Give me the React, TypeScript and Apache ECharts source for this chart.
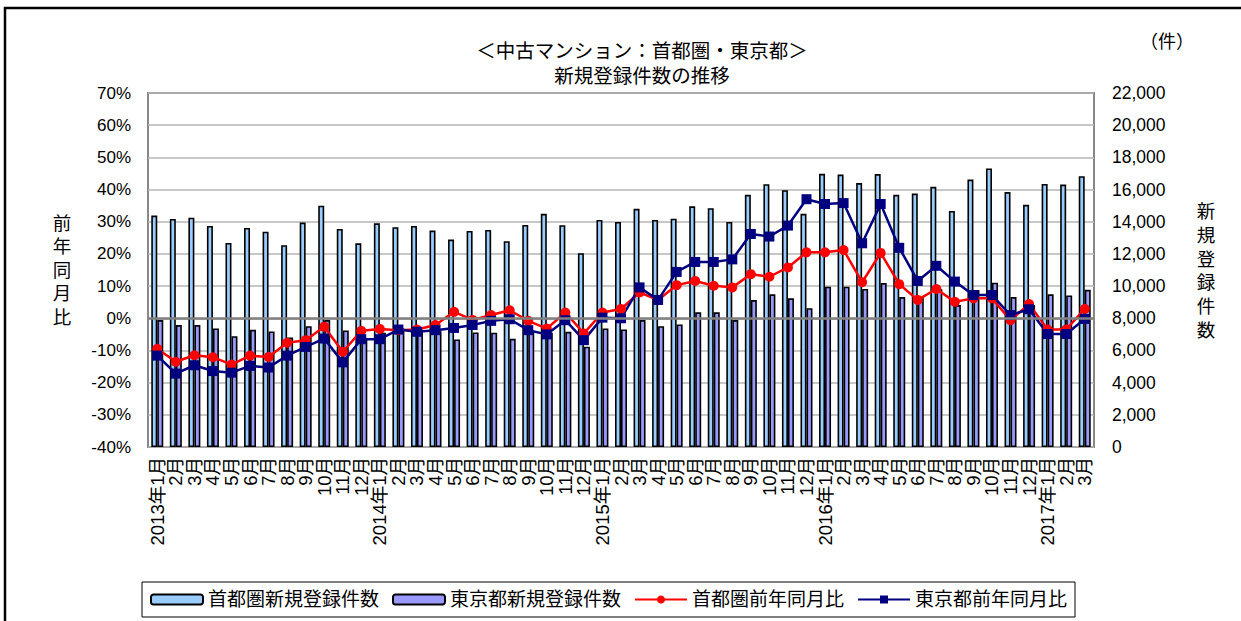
import React, { useEffect, useRef } from "react";
import * as echarts from "echarts";

const months: string[] = [];
const years = [2013, 2014, 2015, 2016, 2017];
const monthCounts = [12, 12, 12, 12, 3];
years.forEach((y, yi) => {
  for (let m = 1; m <= monthCounts[yi]; m++) {
    months.push(m === 1 ? `${y}年${m}月` : `${m}月`);
  }
});

const shutokenCount = [
  14380, 14170, 14250, 13740, 12680, 13610, 13380, 12540, 13950, 15000, 13550, 12660,
  13900, 13660, 13740, 13450, 12890, 13430, 13490, 12790, 13800, 14490, 13780, 12040,
  14110, 13990, 14800, 14110, 14190, 14960, 14840, 13990, 15670, 16330, 15960, 14490,
  16980, 16930, 16400, 16960, 15670, 15750, 16170, 14670, 16620, 17310, 15840, 15050,
  16350, 16310, 16830,
];
const tokyoCount = [
  7890, 7580, 7580, 7370, 6890, 7280, 7180, 6800, 7510, 7890, 7240, 6700,
  7100, 7370, 7300, 7200, 6680, 7120, 7100, 6720, 7200, 7100, 7160, 6230,
  7370, 7310, 7890, 7510, 7620, 8370, 8370, 7890, 9130, 9490, 9240, 8630,
  9960, 9960, 9820, 10190, 9320, 9300, 9800, 8820, 9750, 10210, 9320, 8820,
  9490, 9420, 9770,
];
const shutokenYoY = [
  -9.5, -13.5, -11.5, -12.1, -14.4, -11.6, -12.0, -7.6, -6.8, -2.6, -10.4, -3.9,
  -3.3, -3.7, -3.5, -2.1, 2.0, -0.5, 1.0, 2.5, -0.8, -3.2, 1.8, -4.7,
  1.8, 2.9, 8.0, 5.7, 10.3, 11.6, 10.1, 9.6, 13.7, 12.9, 15.8, 20.5,
  20.5, 21.2, 11.2, 20.3, 10.6, 5.7, 9.1, 5.1, 6.2, 6.2, -0.6, 4.4,
  -3.5, -3.5, 2.9,
];
const tokyoYoY = [
  -11.6, -17.2, -14.6, -16.4, -16.9, -14.8, -15.3, -11.6, -8.9, -6.3, -13.7, -6.5,
  -6.5, -3.5, -4.2, -3.7, -3.0, -2.1, -0.8, -0.3, -3.7, -5.0, -0.6, -6.8,
  0.2, 0.0, 9.6, 5.7, 14.4, 17.5, 17.5, 18.3, 26.2, 25.4, 28.8, 37.0,
  35.5, 35.8, 23.3, 35.5, 21.9, 11.6, 16.3, 11.4, 7.2, 7.2, 1.0, 2.8,
  -4.9, -4.9, -0.2,
];

const seriesNames = ["首都圏新規登録件数", "東京都新規登録件数", "首都圏前年同月比", "東京都前年同月比"];
const titleLines = ["＜中古マンション：首都圏・東京都＞", "新規登録件数の推移"];
const leftAxisName = "前年同月比";
const rightAxisName = "新規登録件数";
const unitLabel = "（件）";

const FONT = "'Liberation Sans', 'Noto Sans CJK JP', sans-serif";

export default function App() {
  const ref = useRef<HTMLDivElement>(null);
  useEffect(() => {
    if (!ref.current) return;
    const chart = echarts.init(ref.current, null, { renderer: "svg" });
    chart.setOption({
      animation: false,
      backgroundColor: "#fff",
      textStyle: { fontFamily: FONT, color: "#000" },
      title: {
        text: titleLines.join("\n"),
        left: 637,
        textAlign: "center",
        top: 33,
        textStyle: { fontSize: 19.5, fontWeight: "normal", color: "#000", lineHeight: 25, fontFamily: FONT },
      },
      grid: {
        left: 148,
        right: 147,
        top: 93,
        bottom: 174,
        show: true,
        borderColor: "#888",
        borderWidth: 2,
        backgroundColor: "#fff",
      },
      legend: {
        left: 142,
        top: 582,
        padding: [8, 8, 8, 8],
        borderColor: "#000",
        borderWidth: 1,
        itemGap: 13,
        itemWidth: 52,
        itemHeight: 10,
        textStyle: { fontSize: 19, color: "#000", fontFamily: FONT },
        data: [
          { name: seriesNames[0], icon: "roundRect" },
          { name: seriesNames[1], icon: "roundRect" },
          { name: seriesNames[2] },
          { name: seriesNames[3] },
        ],
      },
      xAxis: {
        type: "category",
        data: months,
        boundaryGap: true,
        axisLine: { show: false },
        axisTick: { show: false },
        axisLabel: {
          interval: 0,
          rotate: 90,
          fontSize: 18.5,
          margin: 10,
          color: "#000",
          fontFamily: FONT,
        },
      },
      yAxis: [
        {
          type: "value",
          min: -40,
          max: 70,
          interval: 10,
          axisLine: { show: false },
          axisTick: { show: false },
          axisLabel: { formatter: "{value}%", fontSize: 17, margin: 17, color: "#000", fontFamily: FONT },
          splitLine: { lineStyle: { color: "#b4b4b4", width: 1.5 } },
        },
        {
          type: "value",
          min: 0,
          max: 22000,
          interval: 2000,
          axisLine: { show: false },
          axisTick: { show: false },
          splitLine: { show: false },
          axisLabel: {
            fontSize: 17.5,
            margin: 18,
            color: "#000",
            fontFamily: FONT,
            formatter: (v: number) => v.toLocaleString("en-US"),
          },
        },
      ],
      series: [
        {
          name: seriesNames[0],
          type: "bar",
          yAxisIndex: 1,
          data: shutokenCount,
          barWidth: 6,
          barGap: "0%",
          itemStyle: { color: "#99ccff", borderColor: "#000", borderWidth: 1.6 },
        },
        {
          name: seriesNames[1],
          type: "bar",
          yAxisIndex: 1,
          data: tokyoCount,
          barWidth: 6,
          barGap: "0%",
          itemStyle: { color: "#9999ff", borderColor: "#000", borderWidth: 1.6 },
          markLine: {
            silent: true,
            symbol: "none",
            label: { show: false },
            lineStyle: { color: "#808080", width: 2.5, type: "solid" },
            data: [{ yAxis: 8000 }],
          },
        },
        {
          name: seriesNames[2],
          type: "line",
          yAxisIndex: 0,
          data: shutokenYoY,
          symbol: "circle",
          symbolSize: 10,
          lineStyle: { color: "#ff0000", width: 2.5 },
          itemStyle: { color: "#ff0000" },
        },
        {
          name: seriesNames[3],
          type: "line",
          yAxisIndex: 0,
          data: tokyoYoY,
          symbol: "rect",
          symbolSize: 10,
          lineStyle: { color: "#000080", width: 2.5 },
          itemStyle: { color: "#000080" },
        },
      ],
      graphic: [
        {
          type: "rect",
          shape: { x: 5, y: 8, width: 1260, height: 640 },
          style: { fill: "none", stroke: "#000", lineWidth: 2.5 },
          silent: true,
        },
        {
          type: "text",
          x: 62,
          y: 270,
          style: {
            text: leftAxisName.split("").join("\n"),
            fontSize: 18.5,
            lineHeight: 23.5,
            fill: "#000",
            fontFamily: FONT,
            align: "center",
            verticalAlign: "middle",
          },
        },
        {
          type: "text",
          x: 1206,
          y: 271,
          style: {
            text: rightAxisName.split("").join("\n"),
            fontSize: 18.5,
            lineHeight: 23.7,
            fill: "#000",
            fontFamily: FONT,
            align: "center",
            verticalAlign: "middle",
          },
        },
        {
          type: "text",
          x: 1167,
          y: 42,
          style: {
            text: unitLabel,
            fontSize: 18,
            fill: "#000",
            fontFamily: FONT,
            align: "center",
            verticalAlign: "middle",
          },
        },
      ],
    });
    return () => chart.dispose();
  }, []);
  return (
    <div
      ref={ref}
      style={{ position: "fixed", left: 0, top: 0, width: 1241, height: 621 }}
    />
  );
}
